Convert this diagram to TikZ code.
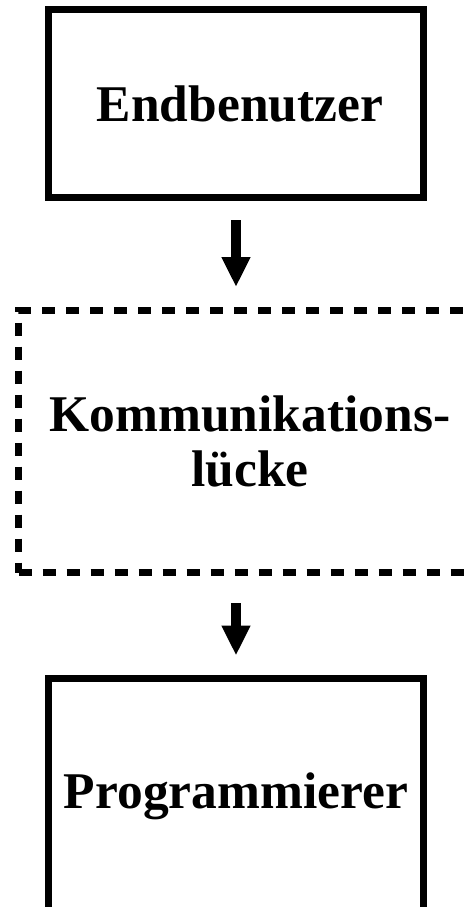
\documentclass[tikz,border=0pt]{standalone}
\usepackage{fontspec}
\setmainfont{Liberation Serif}
\usetikzlibrary{arrows.meta}

\begin{document}
\begin{tikzpicture}[x=1pt, y=-1pt]
            % Define block styles
            \tikzstyle{block} = [draw, rectangle, line width=7pt, minimum width=375pt, align=center, font=\fontsize{51.5}{55}\selectfont\bfseries]
            \tikzstyle{gapbox} = [block, dash pattern=on 13pt off 11pt, minimum width=463pt, minimum height=262pt]
            \tikzstyle{flow} = [line width=10pt, -{Triangle[width=27pt, length=30pt]}]

            \clip (0,0) rectangle (464,907);

            % Nodes
            \node[block, minimum height=188pt] at (236,103.5) (user) {\hspace*{8pt}Endbenutzer};
            \node[gapbox] at (250,441.5) (gap) {Kommunikations-\\lücke};
            \node[block, minimum height=236pt] at (236,796) (prog) {Programmierer};

            \draw[flow, shorten <=19pt, shorten >=20pt] (user.south) -- (user.south |- gap.north);
            \draw[flow, shorten <=27pt, shorten >=19pt] (prog.north |- gap.south) -- (prog.north);
\end{tikzpicture}
\end{document}
